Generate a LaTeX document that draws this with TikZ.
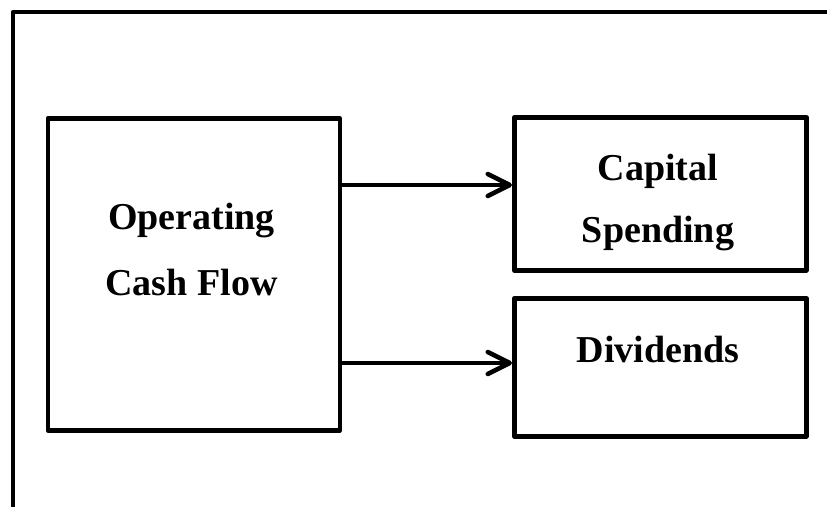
\documentclass[tikz,border=0pt]{standalone}
\usepackage{fontspec}
\setmainfont{Liberation Serif}
\usetikzlibrary{arrows.meta}
\begin{document}
\begin{tikzpicture}[x=1pt,y=-1pt,
  box/.style={draw=black,line width=4.5pt,line join=round,inner sep=0pt,anchor=north west},
  lbl/.style={font=\fontsize{38}{64}\selectfont\bfseries,anchor=base,inner sep=0pt},
  flow/.style={line width=4.5pt,line cap=round,-{Straight Barb[length=22pt,width=22pt,line width=4.5pt,round]}}]
\useasboundingbox (0,0) rectangle (827,506);
% outer frame (only top and left edges visible)
\draw[line width=4.5pt,line join=round] (13,520) -- (13,12) -- (840,12);
% boxes
\node[box,minimum width=292pt,minimum height=312pt] (ocf) at (45.5,116) {};
\node[box,minimum width=292pt,minimum height=153pt] (cap) at (512,115) {};
\node[box,minimum width=292pt,minimum height=138pt] (div) at (512,296) {};
% labels
\node[lbl] (t1) at (191.5,229) {Operating};
\node[lbl] (t2) at (191.5,295) {Cash Flow};
\node[lbl] (t3) at (658,180) {Capital};
\node[lbl] (t4) at (658,242) {Spending};
\node[lbl] (t5) at (658,362) {Dividends};
% arrows
\draw[flow] (ocf.east |- 0,185) -- (cap.west |- 0,185);
\draw[flow] (ocf.east |- 0,363) -- (div.west |- 0,363);
\end{tikzpicture}
\end{document}
